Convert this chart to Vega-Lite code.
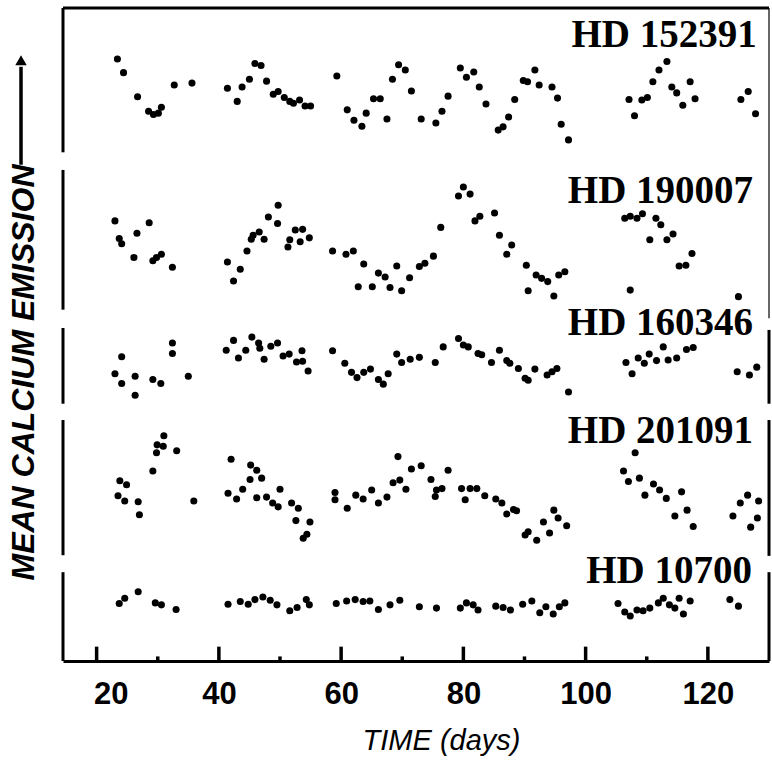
{
"$schema": "https://vega.github.io/schema/vega-lite/v6.json",
"width": 706, "height": 653,
"autosize": "none",
"padding": {"left": 63, "top": 8, "right": 3, "bottom": 99},
"background": "white",
"config": {"view": {"stroke": null}},
"datasets": {
"frame": [
{"kind":"thick","day":14.5,"day2":14.5,"em":100,"em2":77.9},
{"kind":"thick","day":14.5,"day2":14.5,"em":75.2,"em2":53.8},
{"kind":"thick","day":14.5,"day2":14.5,"em":51.0,"em2":39.4},
{"kind":"thick","day":14.5,"day2":14.5,"em":36.9,"em2":16.2},
{"kind":"thick","day":14.5,"day2":14.5,"em":13.6,"em2":0},
{"kind":"thick","day":14.5,"day2":130,"em":100,"em2":100},
{"kind":"thin","day":130,"day2":130,"em":100,"em2":52.5},
{"kind":"thick","day":130,"day2":130,"em":50.7,"em2":39.4},
{"kind":"thick","day":130,"day2":130,"em":36.9,"em2":16.1},
{"kind":"thick","day":130,"day2":130,"em":13.6,"em2":0},
{"kind":"tick","day":20,"day2":20,"em":0,"em2":2.2},
{"kind":"tick","day":40,"day2":40,"em":0,"em2":2.2},
{"kind":"tick","day":60,"day2":60,"em":0,"em2":2.2},
{"kind":"tick","day":80,"day2":80,"em":0,"em2":2.2},
{"kind":"tick","day":100,"day2":100,"em":0,"em2":2.2},
{"kind":"tick","day":120,"day2":120,"em":0,"em2":2.2},
{"kind":"tick","day":30,"day2":30,"em":0,"em2":0.7},
{"kind":"tick","day":50,"day2":50,"em":0,"em2":0.7},
{"kind":"tick","day":70,"day2":70,"em":0,"em2":0.7},
{"kind":"tick","day":90,"day2":90,"em":0,"em2":0.7},
{"kind":"tick","day":110,"day2":110,"em":0,"em2":0.7},
{"kind":"tick","day":7.63,"day2":7.63,"em":76.0,"em2":91.0}
],
"arrowhead": [
{"day":7.63,"em":92.0}
],
"labels": [
{"label":"HD 152391","day":128.0,"em":94.0},
{"label":"HD 190007","day":127.4,"em":70.1},
{"label":"HD 160346","day":127.4,"em":49.9},
{"label":"HD 201091","day":127.4,"em":33.4},
{"label":"HD 10700","day":127.2,"em":11.9}
],
"stars": [
{"star":"HD 152391","day":23.4,"em":92.2},{"star":"HD 152391","day":24.4,"em":90.1},{"star":"HD 152391","day":26.7,"em":86.4},{"star":"HD 152391","day":28.5,"em":84.2},{"star":"HD 152391","day":29.3,"em":83.7},{"star":"HD 152391","day":30.1,"em":83.9},{"star":"HD 152391","day":30.6,"em":84.8},{"star":"HD 152391","day":32.7,"em":88.2},{"star":"HD 152391","day":35.6,"em":88.5},{"star":"HD 152391","day":41.4,"em":87.7},{"star":"HD 152391","day":43.0,"em":85.7},{"star":"HD 152391","day":43.8,"em":87.9},{"star":"HD 152391","day":45.0,"em":89.1},{"star":"HD 152391","day":45.9,"em":91.5},{"star":"HD 152391","day":46.9,"em":91.2},{"star":"HD 152391","day":47.8,"em":88.8},{"star":"HD 152391","day":48.9,"em":86.8},{"star":"HD 152391","day":49.7,"em":87.2},{"star":"HD 152391","day":50.7,"em":86.3},{"star":"HD 152391","day":51.6,"em":85.7},{"star":"HD 152391","day":52.2,"em":85.4},{"star":"HD 152391","day":53.2,"em":85.9},{"star":"HD 152391","day":54.1,"em":85.0},{"star":"HD 152391","day":55.0,"em":85.0},{"star":"HD 152391","day":59.3,"em":89.6},{"star":"HD 152391","day":61.0,"em":84.4},{"star":"HD 152391","day":62.1,"em":82.8},{"star":"HD 152391","day":63.4,"em":81.9},{"star":"HD 152391","day":64.1,"em":83.9},{"star":"HD 152391","day":65.3,"em":86.1},{"star":"HD 152391","day":66.4,"em":86.1},{"star":"HD 152391","day":67.5,"em":83.0},{"star":"HD 152391","day":68.4,"em":89.1},{"star":"HD 152391","day":69.4,"em":91.3},{"star":"HD 152391","day":70.5,"em":90.5},{"star":"HD 152391","day":71.5,"em":87.3},{"star":"HD 152391","day":73.1,"em":83.0},{"star":"HD 152391","day":75.5,"em":82.4},{"star":"HD 152391","day":76.5,"em":84.2},{"star":"HD 152391","day":77.5,"em":86.5},{"star":"HD 152391","day":79.5,"em":90.8},{"star":"HD 152391","day":80.5,"em":89.4},{"star":"HD 152391","day":81.7,"em":90.2},{"star":"HD 152391","day":82.6,"em":87.9},{"star":"HD 152391","day":83.7,"em":85.3},{"star":"HD 152391","day":85.7,"em":81.3},{"star":"HD 152391","day":86.5,"em":81.8},{"star":"HD 152391","day":87.4,"em":83.3},{"star":"HD 152391","day":88.4,"em":86.0},{"star":"HD 152391","day":89.8,"em":88.9},{"star":"HD 152391","day":90.5,"em":88.7},{"star":"HD 152391","day":91.7,"em":90.5},{"star":"HD 152391","day":92.4,"em":88.2},{"star":"HD 152391","day":94.5,"em":87.9},{"star":"HD 152391","day":95.4,"em":86.2},{"star":"HD 152391","day":96.0,"em":82.2},{"star":"HD 152391","day":97.2,"em":79.8},{"star":"HD 152391","day":107.1,"em":86.0},{"star":"HD 152391","day":108.0,"em":83.5},{"star":"HD 152391","day":109.2,"em":85.9},{"star":"HD 152391","day":110.1,"em":86.3},{"star":"HD 152391","day":111.0,"em":88.7},{"star":"HD 152391","day":112.0,"em":90.5},{"star":"HD 152391","day":113.3,"em":91.8},{"star":"HD 152391","day":114.1,"em":87.9},{"star":"HD 152391","day":114.9,"em":87.0},{"star":"HD 152391","day":115.9,"em":85.1},{"star":"HD 152391","day":117.1,"em":88.7},{"star":"HD 152391","day":117.9,"em":86.1},{"star":"HD 152391","day":125.4,"em":86.0},{"star":"HD 152391","day":126.6,"em":87.2},{"star":"HD 152391","day":127.8,"em":83.8},
{"star":"HD 190007","day":23.0,"em":67.4},{"star":"HD 190007","day":23.7,"em":64.7},{"star":"HD 190007","day":24.1,"em":63.9},{"star":"HD 190007","day":26.1,"em":61.8},{"star":"HD 190007","day":26.6,"em":65.5},{"star":"HD 190007","day":28.6,"em":67.1},{"star":"HD 190007","day":29.2,"em":61.3},{"star":"HD 190007","day":29.8,"em":61.8},{"star":"HD 190007","day":30.6,"em":62.3},{"star":"HD 190007","day":32.4,"em":60.3},{"star":"HD 190007","day":41.4,"em":61.1},{"star":"HD 190007","day":42.4,"em":58.2},{"star":"HD 190007","day":43.5,"em":60.0},{"star":"HD 190007","day":44.6,"em":62.8},{"star":"HD 190007","day":45.3,"em":64.6},{"star":"HD 190007","day":45.6,"em":65.2},{"star":"HD 190007","day":46.6,"em":65.7},{"star":"HD 190007","day":47.4,"em":64.6},{"star":"HD 190007","day":48.1,"em":68.0},{"star":"HD 190007","day":49.6,"em":67.0},{"star":"HD 190007","day":49.7,"em":69.8},{"star":"HD 190007","day":51.3,"em":63.4},{"star":"HD 190007","day":51.6,"em":64.5},{"star":"HD 190007","day":52.5,"em":66.0},{"star":"HD 190007","day":53.3,"em":64.2},{"star":"HD 190007","day":53.7,"em":66.1},{"star":"HD 190007","day":54.8,"em":64.8},{"star":"HD 190007","day":58.6,"em":62.8},{"star":"HD 190007","day":60.8,"em":62.3},{"star":"HD 190007","day":62.0,"em":62.8},{"star":"HD 190007","day":62.8,"em":57.3},{"star":"HD 190007","day":63.7,"em":60.8},{"star":"HD 190007","day":65.1,"em":57.3},{"star":"HD 190007","day":66.1,"em":59.4},{"star":"HD 190007","day":67.2,"em":58.8},{"star":"HD 190007","day":68.0,"em":57.2},{"star":"HD 190007","day":69.1,"em":60.5},{"star":"HD 190007","day":69.9,"em":56.7},{"star":"HD 190007","day":71.2,"em":58.7},{"star":"HD 190007","day":72.8,"em":60.4},{"star":"HD 190007","day":73.7,"em":60.9},{"star":"HD 190007","day":75.1,"em":62.0},{"star":"HD 190007","day":76.3,"em":66.4},{"star":"HD 190007","day":79.2,"em":71.2},{"star":"HD 190007","day":80.0,"em":72.6},{"star":"HD 190007","day":81.1,"em":71.5},{"star":"HD 190007","day":81.9,"em":67.4},{"star":"HD 190007","day":82.7,"em":68.1},{"star":"HD 190007","day":85.1,"em":68.6},{"star":"HD 190007","day":85.9,"em":65.2},{"star":"HD 190007","day":87.1,"em":62.3},{"star":"HD 190007","day":87.9,"em":63.7},{"star":"HD 190007","day":90.3,"em":60.6},{"star":"HD 190007","day":90.6,"em":56.7},{"star":"HD 190007","day":91.9,"em":59.1},{"star":"HD 190007","day":92.8,"em":58.6},{"star":"HD 190007","day":93.8,"em":58.1},{"star":"HD 190007","day":94.8,"em":55.9},{"star":"HD 190007","day":95.6,"em":59.1},{"star":"HD 190007","day":96.6,"em":59.6},{"star":"HD 190007","day":106.4,"em":67.8},{"star":"HD 190007","day":107.3,"em":68.1},{"star":"HD 190007","day":108.4,"em":67.8},{"star":"HD 190007","day":109.3,"em":68.5},{"star":"HD 190007","day":110.5,"em":64.5},{"star":"HD 190007","day":111.5,"em":67.8},{"star":"HD 190007","day":112.3,"em":66.8},{"star":"HD 190007","day":113.3,"em":64.5},{"star":"HD 190007","day":114.3,"em":65.4},{"star":"HD 190007","day":115.3,"em":60.5},{"star":"HD 190007","day":116.4,"em":60.6},{"star":"HD 190007","day":117.4,"em":62.4},{"star":"HD 190007","day":107.3,"em":56.8},{"star":"HD 190007","day":125.0,"em":55.8},
{"star":"HD 160346","day":24.1,"em":46.6},{"star":"HD 160346","day":23.0,"em":44.0},{"star":"HD 160346","day":24.1,"em":42.5},{"star":"HD 160346","day":26.3,"em":43.6},{"star":"HD 160346","day":26.3,"em":40.7},{"star":"HD 160346","day":29.2,"em":43.1},{"star":"HD 160346","day":30.5,"em":42.5},{"star":"HD 160346","day":32.4,"em":48.7},{"star":"HD 160346","day":32.4,"em":47.1},{"star":"HD 160346","day":35.0,"em":43.6},{"star":"HD 160346","day":41.2,"em":47.6},{"star":"HD 160346","day":42.4,"em":49.1},{"star":"HD 160346","day":43.2,"em":46.4},{"star":"HD 160346","day":44.4,"em":47.6},{"star":"HD 160346","day":45.4,"em":49.6},{"star":"HD 160346","day":46.5,"em":48.7},{"star":"HD 160346","day":46.7,"em":47.9},{"star":"HD 160346","day":47.4,"em":46.2},{"star":"HD 160346","day":48.5,"em":48.2},{"star":"HD 160346","day":49.6,"em":48.7},{"star":"HD 160346","day":50.5,"em":46.7},{"star":"HD 160346","day":51.5,"em":47.0},{"star":"HD 160346","day":52.7,"em":45.8},{"star":"HD 160346","day":53.6,"em":47.5},{"star":"HD 160346","day":53.7,"em":45.9},{"star":"HD 160346","day":54.6,"em":44.4},{"star":"HD 160346","day":58.6,"em":47.5},{"star":"HD 160346","day":60.6,"em":45.6},{"star":"HD 160346","day":61.7,"em":44.2},{"star":"HD 160346","day":62.6,"em":43.4},{"star":"HD 160346","day":63.7,"em":44.2},{"star":"HD 160346","day":64.8,"em":44.7},{"star":"HD 160346","day":66.1,"em":43.1},{"star":"HD 160346","day":66.9,"em":42.4},{"star":"HD 160346","day":67.7,"em":44.0},{"star":"HD 160346","day":69.1,"em":47.0},{"star":"HD 160346","day":69.9,"em":45.7},{"star":"HD 160346","day":71.3,"em":46.2},{"star":"HD 160346","day":72.8,"em":46.5},{"star":"HD 160346","day":75.4,"em":45.7},{"star":"HD 160346","day":76.7,"em":48.1},{"star":"HD 160346","day":79.2,"em":49.4},{"star":"HD 160346","day":80.0,"em":48.4},{"star":"HD 160346","day":80.8,"em":48.1},{"star":"HD 160346","day":82.4,"em":47.1},{"star":"HD 160346","day":83.0,"em":46.9},{"star":"HD 160346","day":84.6,"em":45.7},{"star":"HD 160346","day":85.9,"em":47.6},{"star":"HD 160346","day":87.1,"em":46.0},{"star":"HD 160346","day":87.6,"em":45.6},{"star":"HD 160346","day":89.0,"em":44.8},{"star":"HD 160346","day":90.1,"em":43.3},{"star":"HD 160346","day":90.6,"em":43.0},{"star":"HD 160346","day":91.7,"em":44.7},{"star":"HD 160346","day":93.7,"em":43.8},{"star":"HD 160346","day":94.5,"em":44.3},{"star":"HD 160346","day":95.3,"em":44.8},{"star":"HD 160346","day":97.2,"em":41.2},{"star":"HD 160346","day":106.6,"em":45.7},{"star":"HD 160346","day":107.6,"em":44.0},{"star":"HD 160346","day":108.6,"em":46.4},{"star":"HD 160346","day":109.6,"em":45.6},{"star":"HD 160346","day":110.4,"em":47.0},{"star":"HD 160346","day":111.6,"em":46.0},{"star":"HD 160346","day":112.7,"em":48.1},{"star":"HD 160346","day":113.5,"em":46.1},{"star":"HD 160346","day":114.9,"em":46.4},{"star":"HD 160346","day":116.5,"em":47.7},{"star":"HD 160346","day":117.6,"em":48.0},{"star":"HD 160346","day":124.8,"em":44.3},{"star":"HD 160346","day":126.8,"em":43.8},{"star":"HD 160346","day":128.0,"em":45.0},
{"star":"HD 201091","day":23.8,"em":27.6},{"star":"HD 201091","day":24.9,"em":27.0},{"star":"HD 201091","day":23.5,"em":25.3},{"star":"HD 201091","day":24.6,"em":24.5},{"star":"HD 201091","day":26.8,"em":24.4},{"star":"HD 201091","day":27.0,"em":22.4},{"star":"HD 201091","day":29.2,"em":29.1},{"star":"HD 201091","day":29.8,"em":31.9},{"star":"HD 201091","day":29.9,"em":33.1},{"star":"HD 201091","day":31.0,"em":34.5},{"star":"HD 201091","day":30.9,"em":32.9},{"star":"HD 201091","day":33.1,"em":32.2},{"star":"HD 201091","day":35.9,"em":24.5},{"star":"HD 201091","day":42.0,"em":30.9},{"star":"HD 201091","day":41.5,"em":25.7},{"star":"HD 201091","day":42.9,"em":24.8},{"star":"HD 201091","day":43.9,"em":26.3},{"star":"HD 201091","day":45.1,"em":27.8},{"star":"HD 201091","day":45.2,"em":30.0},{"star":"HD 201091","day":46.2,"em":29.2},{"star":"HD 201091","day":47.0,"em":28.0},{"star":"HD 201091","day":46.2,"em":25.0},{"star":"HD 201091","day":47.8,"em":25.1},{"star":"HD 201091","day":48.8,"em":24.2},{"star":"HD 201091","day":49.7,"em":23.6},{"star":"HD 201091","day":50.0,"em":26.3},{"star":"HD 201091","day":51.9,"em":24.2},{"star":"HD 201091","day":53.0,"em":23.4},{"star":"HD 201091","day":52.6,"em":21.5},{"star":"HD 201091","day":54.9,"em":21.3},{"star":"HD 201091","day":54.4,"em":19.4},{"star":"HD 201091","day":53.8,"em":18.8},{"star":"HD 201091","day":59.0,"em":25.8},{"star":"HD 201091","day":59.0,"em":24.7},{"star":"HD 201091","day":61.0,"em":23.4},{"star":"HD 201091","day":62.4,"em":25.4},{"star":"HD 201091","day":63.6,"em":24.8},{"star":"HD 201091","day":65.0,"em":26.2},{"star":"HD 201091","day":66.1,"em":24.2},{"star":"HD 201091","day":67.5,"em":25.1},{"star":"HD 201091","day":69.3,"em":31.3},{"star":"HD 201091","day":68.5,"em":27.3},{"star":"HD 201091","day":69.6,"em":27.7},{"star":"HD 201091","day":70.6,"em":26.3},{"star":"HD 201091","day":71.5,"em":29.4},{"star":"HD 201091","day":73.1,"em":29.9},{"star":"HD 201091","day":74.7,"em":27.8},{"star":"HD 201091","day":75.6,"em":26.2},{"star":"HD 201091","day":75.4,"em":25.2},{"star":"HD 201091","day":76.5,"em":26.4},{"star":"HD 201091","day":77.5,"em":29.2},{"star":"HD 201091","day":79.7,"em":26.4},{"star":"HD 201091","day":80.3,"em":24.7},{"star":"HD 201091","day":81.1,"em":26.4},{"star":"HD 201091","day":82.2,"em":26.4},{"star":"HD 201091","day":83.5,"em":25.3},{"star":"HD 201091","day":85.3,"em":24.8},{"star":"HD 201091","day":86.3,"em":24.2},{"star":"HD 201091","day":87.1,"em":22.5},{"star":"HD 201091","day":88.2,"em":23.2},{"star":"HD 201091","day":88.7,"em":23.0},{"star":"HD 201091","day":90.1,"em":19.3},{"star":"HD 201091","day":90.6,"em":19.8},{"star":"HD 201091","day":92.0,"em":18.5},{"star":"HD 201091","day":93.1,"em":21.3},{"star":"HD 201091","day":94.1,"em":19.6},{"star":"HD 201091","day":94.8,"em":23.1},{"star":"HD 201091","day":95.5,"em":21.9},{"star":"HD 201091","day":96.9,"em":20.7},{"star":"HD 201091","day":108.1,"em":31.9},{"star":"HD 201091","day":106.2,"em":29.1},{"star":"HD 201091","day":107.0,"em":27.5},{"star":"HD 201091","day":108.8,"em":28.0},{"star":"HD 201091","day":109.7,"em":25.4},{"star":"HD 201091","day":111.1,"em":27.1},{"star":"HD 201091","day":112.1,"em":26.2},{"star":"HD 201091","day":113.2,"em":24.9},{"star":"HD 201091","day":115.7,"em":25.9},{"star":"HD 201091","day":114.6,"em":22.2},{"star":"HD 201091","day":116.6,"em":23.1},{"star":"HD 201091","day":117.6,"em":20.6},{"star":"HD 201091","day":124.1,"em":22.2},{"star":"HD 201091","day":125.3,"em":24.2},{"star":"HD 201091","day":126.5,"em":25.4},{"star":"HD 201091","day":128.3,"em":24.5},{"star":"HD 201091","day":128.1,"em":21.9},{"star":"HD 201091","day":127.0,"em":20.5},
{"star":"HD 10700","day":23.7,"em":8.8},{"star":"HD 10700","day":24.6,"em":9.6},{"star":"HD 10700","day":26.8,"em":10.6},{"star":"HD 10700","day":29.6,"em":8.9},{"star":"HD 10700","day":30.6,"em":8.6},{"star":"HD 10700","day":33.0,"em":7.9},{"star":"HD 10700","day":41.5,"em":8.7},{"star":"HD 10700","day":43.5,"em":9.1},{"star":"HD 10700","day":44.8,"em":8.7},{"star":"HD 10700","day":45.9,"em":9.4},{"star":"HD 10700","day":47.2,"em":9.8},{"star":"HD 10700","day":48.4,"em":9.3},{"star":"HD 10700","day":49.5,"em":8.6},{"star":"HD 10700","day":51.6,"em":7.7},{"star":"HD 10700","day":52.8,"em":8.2},{"star":"HD 10700","day":54.3,"em":9.4},{"star":"HD 10700","day":54.8,"em":8.6},{"star":"HD 10700","day":59.2,"em":8.8},{"star":"HD 10700","day":60.9,"em":9.2},{"star":"HD 10700","day":62.3,"em":9.4},{"star":"HD 10700","day":63.6,"em":9.1},{"star":"HD 10700","day":64.7,"em":9.2},{"star":"HD 10700","day":66.1,"em":7.9},{"star":"HD 10700","day":68.0,"em":8.6},{"star":"HD 10700","day":69.6,"em":9.3},{"star":"HD 10700","day":72.8,"em":8.3},{"star":"HD 10700","day":75.6,"em":8.1},{"star":"HD 10700","day":79.5,"em":8.1},{"star":"HD 10700","day":80.5,"em":8.9},{"star":"HD 10700","day":81.6,"em":8.6},{"star":"HD 10700","day":82.4,"em":7.8},{"star":"HD 10700","day":85.3,"em":8.4},{"star":"HD 10700","day":86.5,"em":8.2},{"star":"HD 10700","day":87.7,"em":7.8},{"star":"HD 10700","day":89.7,"em":8.7},{"star":"HD 10700","day":91.2,"em":9.2},{"star":"HD 10700","day":92.5,"em":7.4},{"star":"HD 10700","day":93.5,"em":8.3},{"star":"HD 10700","day":94.7,"em":7.2},{"star":"HD 10700","day":95.7,"em":8.3},{"star":"HD 10700","day":96.6,"em":8.9},{"star":"HD 10700","day":105.3,"em":8.8},{"star":"HD 10700","day":106.4,"em":7.5},{"star":"HD 10700","day":107.3,"em":6.9},{"star":"HD 10700","day":108.4,"em":7.8},{"star":"HD 10700","day":109.4,"em":7.7},{"star":"HD 10700","day":110.5,"em":8.1},{"star":"HD 10700","day":111.9,"em":8.9},{"star":"HD 10700","day":112.7,"em":9.6},{"star":"HD 10700","day":113.7,"em":8.6},{"star":"HD 10700","day":114.6,"em":8.1},{"star":"HD 10700","day":115.3,"em":9.6},{"star":"HD 10700","day":116.0,"em":7.2},{"star":"HD 10700","day":117.1,"em":9.2},{"star":"HD 10700","day":123.6,"em":9.4},{"star":"HD 10700","day":125.0,"em":8.4}
]
},
"encoding": {
"x": {"field": "day", "type": "quantitative",
 "scale": {"domain": [14.5, 130], "nice": false, "zero": false},
 "axis": {"values": [20,40,60,80,100,120],
  "ticks": false, "tickSize": 0,
  "labelOffset": {"condition": {"test": "datum.value === 20", "value": 14}, "value": 0},
  "domainColor": "black", "domainWidth": 3, "grid": false,
  "labelFont": "Liberation Sans", "labelFontSize": 31, "labelFontWeight": "bold", "labelColor": "black",
  "labelPadding": 18, "labelFlush": false,
  "title": "TIME (days)", "titleFont": "Liberation Sans", "titleFontSize": 29, "titleFontStyle": "italic", "titleFontWeight": "normal",
  "titleColor": "black", "titleX": 378, "titleY": 88, "titleBaseline": "alphabetic", "titleAlign": "center"}},
"y": {"field": "em", "type": "quantitative",
 "scale": {"domain": [0, 100], "nice": false, "zero": false},
 "axis": {"ticks": false, "labels": false, "domain": false, "grid": false,
  "title": "MEAN CALCIUM EMISSION", "titleFont": "Liberation Sans", "titleFontSize": 32,
  "titleFontStyle": "italic", "titleFontWeight": "bold", "titleColor": "black",
  "titleAngle": 270, "titleAlign": "left", "titleBaseline": "alphabetic", "titleX": -30, "titleY": 572}}
},
"layer": [
{"data": {"name": "frame"}, "transform": [{"filter": "datum.kind === 'thick'"}],
 "mark": {"type": "rule", "color": "black", "strokeWidth": 3, "strokeCap": "butt"},
 "encoding": {"x2": {"field": "day2"}, "y2": {"field": "em2"}}},
{"data": {"name": "frame"}, "transform": [{"filter": "datum.kind === 'thin'"}],
 "mark": {"type": "rule", "color": "black", "strokeWidth": 1.2, "strokeCap": "butt"},
 "encoding": {"x2": {"field": "day2"}, "y2": {"field": "em2"}}},
{"data": {"name": "frame"}, "transform": [{"filter": "datum.kind === 'tick'"}],
 "mark": {"type": "rule", "color": "black", "strokeWidth": 3.5, "strokeCap": "butt"},
 "encoding": {"x2": {"field": "day2"}, "y2": {"field": "em2"}}},
{"data": {"name": "arrowhead"}, "mark": {"type": "point", "shape": "triangle-up", "filled": true, "color": "black", "opacity": 1, "size": 130}},
{"data": {"name": "stars"}, "mark": {"type": "circle", "color": "black", "opacity": 1, "size": 50}},
{"data": {"name": "labels"}, "mark": {"type": "text", "align": "right", "baseline": "alphabetic", "font": "Liberation Serif", "fontWeight": "bold", "fontSize": 39, "color": "black"},
 "encoding": {"text": {"field": "label"}}}
]
}
